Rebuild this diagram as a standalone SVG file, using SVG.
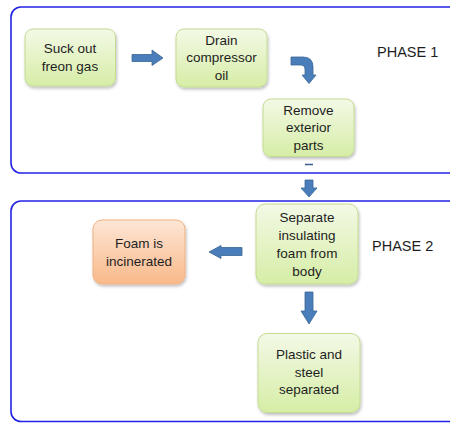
<svg xmlns="http://www.w3.org/2000/svg" width="450" height="423" viewBox="0 0 450 423">
<style>
.phase{fill:#ffffff;stroke:#2323e6;stroke-width:1.6}
.g{fill:url(#gg);stroke:#c3dc92;stroke-width:1;filter:url(#sh)}
.o{fill:url(#og);stroke:#f0b080;stroke-width:1;filter:url(#sh)}
.t{font-family:"Liberation Sans",Arial,sans-serif;font-size:13.5px;fill:#1e1e1e;text-anchor:middle}
.p{font-family:"Liberation Sans",Arial,sans-serif;font-size:14.5px;fill:#1e1e1e}
.arr{fill:#4a7ebb;stroke:#3a6594;stroke-width:0.8}
</style>
<defs>
<linearGradient id="gg" x1="0" y1="0" x2="0" y2="1">
<stop offset="0" stop-color="#f3f9e6"/>
<stop offset="1" stop-color="#d6eda6"/>
</linearGradient>
<linearGradient id="og" x1="0" y1="0" x2="0" y2="1">
<stop offset="0" stop-color="#fde6d6"/>
<stop offset="1" stop-color="#f9b98a"/>
</linearGradient>
<filter id="sh" x="-10%" y="-10%" width="130%" height="130%">
<feDropShadow dx="1" dy="2" stdDeviation="1.5" flood-color="#000" flood-opacity="0.25"/>
</filter>
</defs>
<g id="phase1">
<rect class="phase" x="11" y="7" width="470" height="166" rx="10"/>
<text class="p" x="377" y="57">PHASE 1</text>
</g>
<g id="phase2">
<rect class="phase" x="11" y="201" width="470" height="220.5" rx="10"/>
<text class="p" x="372" y="251">PHASE 2</text>
</g>
<g id="connectors">
<path class="arr" d="M132,54.5 H152 V50 L163,58 L152,65.5 V61.5 H132 Z"/>
<path class="arr" d="M291,57 H303 Q313,57 313,67 V75 H316 L309,83.5 L302,75 H305 V69 Q305,65 301,65 H291 Z"/>
<line x1="305" y1="164.5" x2="313" y2="164.5" stroke="#3a5f8f" stroke-width="1.5"/>
<path class="arr" d="M305,180 H313 V188 H317 L309,197 L301,188 H305 Z"/>
<path class="arr" d="M242,247.5 H221 V245.5 L209,252 L221,258.5 V255.5 H242 Z"/>
<path class="arr" d="M305,292 H313 V311 H317 L309,324 L301,311 H305 Z"/>
</g>
<g id="suck">
<rect class="g" x="25" y="29" width="90.5" height="57" rx="8"/>
<text class="t" x="70" y="53">Suck out</text>
<text class="t" x="70" y="70.5">freon gas</text>
</g>
<g id="drain">
<rect class="g" x="176" y="29" width="91" height="58" rx="8"/>
<text class="t" x="221.5" y="44.5">Drain</text>
<text class="t" x="221.5" y="62">compressor</text>
<text class="t" x="221.5" y="80">oil</text>
</g>
<g id="remove">
<rect class="g" x="263" y="99" width="91" height="57.5" rx="8"/>
<text class="t" x="308.5" y="114.5">Remove</text>
<text class="t" x="308.5" y="132">exterior</text>
<text class="t" x="308.5" y="150">parts</text>
</g>
<g id="separate">
<rect class="g" x="256" y="204" width="102" height="80" rx="9"/>
<text class="t" x="307" y="221.5">Separate</text>
<text class="t" x="307" y="239.5">insulating</text>
<text class="t" x="307" y="257.5">foam from</text>
<text class="t" x="307" y="275.5">body</text>
</g>
<g id="foam">
<rect class="o" x="93" y="220" width="92" height="64" rx="9"/>
<text class="t" x="139" y="247.5">Foam is</text>
<text class="t" x="139" y="265.5">incinerated</text>
</g>
<g id="plastic">
<rect class="g" x="258" y="333.5" width="102" height="79" rx="9"/>
<text class="t" x="309" y="359">Plastic and</text>
<text class="t" x="309" y="376.5">steel</text>
<text class="t" x="309" y="394">separated</text>
</g>
</svg>
